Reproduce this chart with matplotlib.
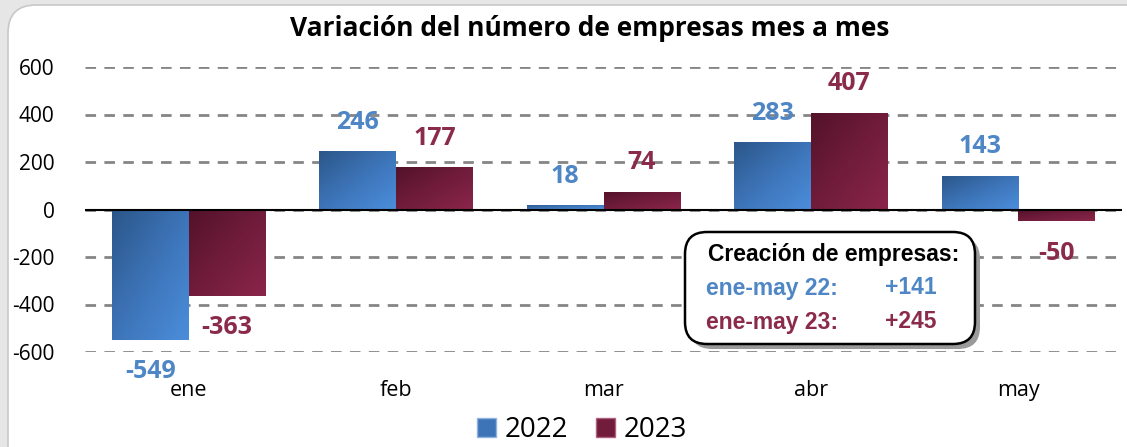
import numpy as np
import matplotlib
matplotlib.use("Agg")
import matplotlib.pyplot as plt
from matplotlib.patches import FancyBboxPatch, Patch
from matplotlib.colors import LinearSegmentedColormap

months = ["ene", "feb", "mar", "abr", "may"]
v2022 = [-549, 246, 18, 283, 143]
v2023 = [-363, 177, 74, 407, -50]
years = ["2022", "2023"]
yticks = [-600, -400, -200, 0, 200, 400, 600]
box_title = "Creación de empresas:"
box_rows = [("ene-may 22:", "+141"), ("ene-may 23:", "+245")]

blue_lbl = "#4f86c6"
red_lbl = "#8b2b4c"
blue_grad = LinearSegmentedColormap.from_list("b", ["#2b5689", "#3d74b8", "#4b8ddb"])
red_grad = LinearSegmentedColormap.from_list("r", ["#531229", "#701c3a", "#8a2549"])

plt.rcParams["font.family"] = ["Open Sans", "DejaVu Sans"]

W, H = 1127, 447
fig = plt.figure(figsize=(W / 100, H / 100), dpi=100)
fig.patch.set_facecolor("#e6e6e6")

# white rounded panel behind everything
panel = FancyBboxPatch((8 / W, -0.1), 1.2, 1.1 - 5 / H,
                       boxstyle="round,pad=0,rounding_size=%f" % (28 / W),
                       transform=fig.transFigure, facecolor="white",
                       edgecolor="#c8c8c8", linewidth=1.2, zorder=-5,
                       mutation_aspect=W / H)
fig.patches.append(panel)

ax = fig.add_axes([85 / W, 95 / H, (1122 - 85) / W, 285 / H])
ax.set_facecolor("none")
for s in ax.spines.values():
    s.set_visible(False)

x = np.arange(len(months))
w = 0.37
bars1 = ax.bar(x - w / 2, v2022, w, color="#3d74b8", zorder=3)
bars2 = ax.bar(x + w / 2, v2023, w, color="#701c3a", zorder=3)

grad = np.add.outer(np.linspace(0, 1, 50), np.linspace(0, 1, 50)) / 2
for bars, cmap in ((bars1, blue_grad), (bars2, red_grad)):
    for b in bars:
        x0, y0 = b.get_x(), b.get_y()
        x1, y1 = x0 + b.get_width(), y0 + b.get_height()
        im = ax.imshow(grad, cmap=cmap, aspect="auto",
                       extent=(x0, x1, min(y0, y1), max(y0, y1)),
                       origin="upper", zorder=4)
        im.set_clip_path(b)

ax.set_xlim(-0.5, 4.5)
ax.set_ylim(-600, 600)
ax.set_yticks(yticks)
ax.set_yticklabels([str(t) for t in yticks], fontsize=15)
ax.set_xticks(x)
ax.set_xticklabels(months, fontsize=15.5)
ax.tick_params(axis="y", length=0, pad=22)
ax.tick_params(axis="x", length=0, pad=20)
ax.grid(axis="y", color="#858585", linestyle=(0, (3.8, 3.0)), linewidth=2.0, zorder=1)
ax.set_axisbelow(True)
ax.axhline(0, color="black", linewidth=1.5, zorder=5)

for bars, vals, col in ((bars1, v2022, blue_lbl), (bars2, v2023, red_lbl)):
    for b, v in zip(bars, vals):
        cx = b.get_x() + b.get_width() / 2
        off = 29 if v >= 0 else -32
        ax.annotate(str(v), (cx, v), xytext=(0, off), textcoords="offset pixels",
                    ha="center", va="center", fontsize=18, fontweight="bold",
                    color=col, zorder=6)

fig.text(590 / W, 1 - 28 / H, "Variación del número de empresas mes a mes",
         ha="center", va="center", fontsize=19, fontweight="bold")

# summary box
rs = "round,pad=0,rounding_size=%f" % (22 / W)
shadow = FancyBboxPatch((690 / W, 1 - 349 / H), 290 / W, 112 / H, boxstyle=rs,
                        transform=fig.transFigure, facecolor="#9a9a9a",
                        edgecolor="none", zorder=7, mutation_aspect=W / H)
box = FancyBboxPatch((685 / W, 1 - 344 / H), 290 / W, 112 / H, boxstyle=rs,
                     transform=fig.transFigure, facecolor="white",
                     edgecolor="black", linewidth=1.8, zorder=8,
                     mutation_aspect=W / H)
fig.patches.extend([shadow, box])
fig.text(834 / W, 1 - 254 / H, box_title, ha="center", va="center",
         fontsize=16.5, fontweight="bold", family="Liberation Sans", zorder=9)
for (lab, val), yy, col in zip(box_rows, (288, 322), (blue_lbl, red_lbl)):
    fig.text(706 / W, 1 - yy / H, lab, ha="left", va="center", fontsize=16.5,
             fontweight="bold", family="Liberation Sans", color=col, zorder=9)
    fig.text(885 / W, 1 - yy / H, val, ha="left", va="center", fontsize=16.5,
             fontweight="bold", family="Liberation Sans", color=col, zorder=9)

handles = [Patch(facecolor="#3d74b8", edgecolor="#8fb3e0"),
           Patch(facecolor="#701c3a", edgecolor="#b06080")]
fig.legend(handles, years, loc="center", bbox_to_anchor=(582 / W, 1 - 430 / H),
           ncol=2, frameon=False, fontsize=20, handlelength=0.7, handleheight=0.7,
           handletextpad=0.3, columnspacing=1.0)

fig.savefig("out.png", dpi=100, facecolor=fig.get_facecolor())
